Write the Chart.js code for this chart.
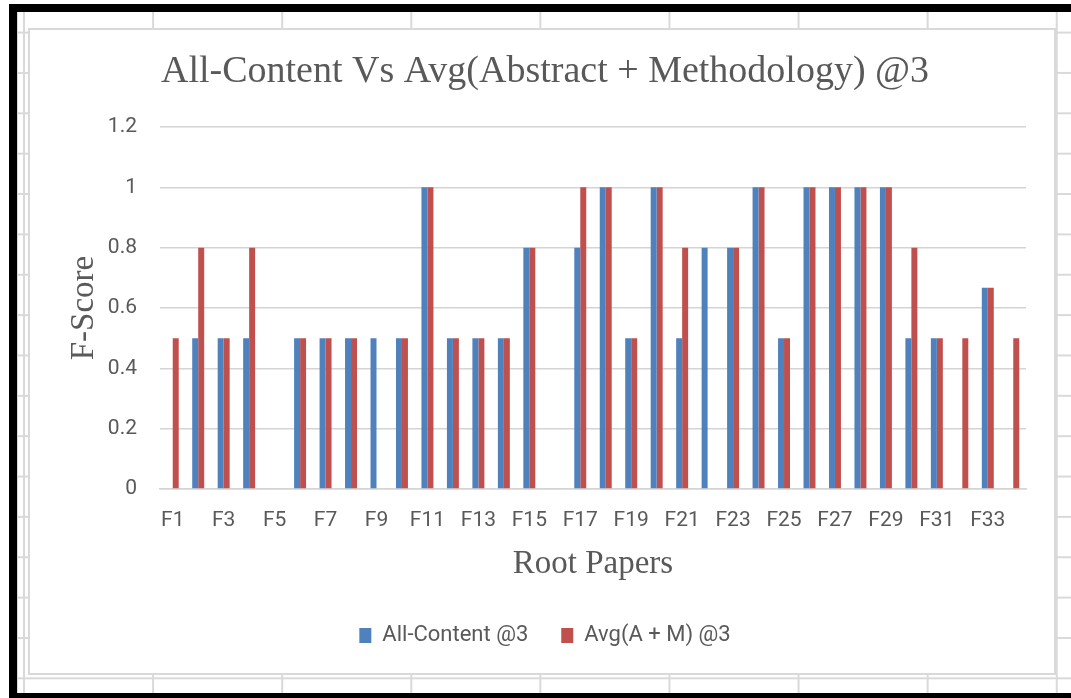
<!DOCTYPE html>
<html>
<head>
<meta charset="utf-8">
<script src="https://cdn.jsdelivr.net/npm/chart.js@4.4.1/dist/chart.umd.min.js"></script>
<style>
    html, body { margin: 0; padding: 0; background: #fff; }
    body { width: 1071px; height: 698px; position: relative; overflow: hidden; }
    /* spreadsheet cells behind the chart */
    #hoja {
        position: absolute; left: 17px; top: 12px; width: 1054px; height: 681px;
        background-color: #fff;
        background-image:
            linear-gradient(to right, #d9d9d9 1.5px, transparent 1.5px),
            linear-gradient(to bottom, #d9d9d9 1.5px, transparent 1.5px);
        background-size: 129.1px 100%, 100% 40.36px;
        background-position: 5px 0, 0 19.6px;
        border-left: 1px solid #d9d9d9;
    }
    #marcoTop { position: absolute; left: 9px; top: 4px; width: 1062px; height: 8px; background: #000; }
    #marcoLeft { position: absolute; left: 9px; top: 4px; width: 8px; height: 694px; background: #000; }
    #marcoBottom { position: absolute; left: 9px; top: 693px; width: 1062px; height: 5px; background: #000; }
    #cajaChart {
        position: absolute; left: 28px; top: 28px; width: 1028px; height: 647px;
        box-sizing: border-box; border: 2px solid #d9d9d9; background: #fff;
    }
    #contenedor { position: relative; width: 1024px; height: 643px; }
</style>
</head>
<body>
<div id="hoja"></div>
<div id="marcoTop"></div>
<div id="marcoLeft"></div>
<div id="marcoBottom"></div>
<div id="cajaChart">
    <div id="contenedor"><canvas id="chartFScore"></canvas></div>
</div>

<script>
    const papers = ['F1', 'F2', 'F3', 'F4', 'F5', 'F6', 'F7', 'F8', 'F9', 'F10',
        'F11', 'F12', 'F13', 'F14', 'F15', 'F16', 'F17', 'F18', 'F19', 'F20',
        'F21', 'F22', 'F23', 'F24', 'F25', 'F26', 'F27', 'F28', 'F29', 'F30',
        'F31', 'F32', 'F33', 'F34'];
    const allContent = [0, 0.5, 0.5, 0.5, 0, 0.5, 0.5, 0.5, 0.5, 0.5,
        1, 0.5, 0.5, 0.5, 0.8, 0, 0.8, 1, 0.5, 1,
        0.5, 0.8, 0.8, 1, 0.5, 1, 1, 1, 1, 0.5,
        0.5, 0, 0.667, 0];
    const avgAM = [0.5, 0.8, 0.5, 0.8, 0, 0.5, 0.5, 0.5, 0, 0.5,
        1, 0.5, 0.5, 0.5, 0.8, 0, 1, 1, 0.5, 1,
        0.8, 0, 0.8, 1, 0.5, 1, 1, 1, 1, 0.8,
        0.5, 0.5, 0.667, 0.5];
    const yTicks = [0, 0.2, 0.4, 0.6, 0.8, 1, 1.2];

    const gris = '#595959';
    const serif = "'Liberation Serif', 'Times New Roman', serif";
    const sans = "Roboto, 'Liberation Sans', sans-serif";

    var ctx = document.getElementById('chartFScore').getContext('2d');
    var myChart = new Chart(ctx, {
        type: 'bar',
        data: {
            labels: papers,
            datasets: [{
                label: 'All-Content @3',
                data: allContent,
                backgroundColor: '#4f81bd',
                borderWidth: 0
            },
            {
                label: 'Avg(A + M) @3',
                data: avgAM,
                backgroundColor: '#c0504d',
                borderWidth: 0
            }]
        },
        options: {
            responsive: true,
            maintainAspectRatio: false,
            animation: false,
            categoryPercentage: 0.47,
            barPercentage: 1.0,
            layout: {
                padding: { left: 34, right: 28, top: 0, bottom: 16.5 }
            },
            plugins: {
                title: {
                    display: true,
                    text: 'All-Content Vs Avg(Abstract + Methodology) @3',
                    color: gris,
                    font: { family: serif, size: 38, weight: 'normal' },
                    padding: { top: 19.2, bottom: 32.2 }
                },
                legend: {
                    display: true,
                    position: 'bottom',
                    labels: {
                        color: gris,
                        font: { family: sans, size: 22 },
                        boxWidth: 12,
                        boxHeight: 15,
                        padding: 33
                    }
                },
                tooltip: { enabled: false }
            },
            scales: {
                x: {
                    grid: { display: false },
                    border: { display: true, color: '#d4d4d4', width: 1.5 },
                    ticks: {
                        autoSkip: false,
                        maxRotation: 0,
                        minRotation: 0,
                        padding: 11,
                        color: gris,
                        font: { family: sans, size: 21 },
                        callback: function (value, index) {
                            return index % 2 === 0 ? papers[index] : '';
                        }
                    },
                    title: {
                        display: true,
                        text: 'Root Papers',
                        color: gris,
                        font: { family: serif, size: 33 },
                        padding: { top: 0, bottom: 7.7 }
                    },
                    afterFit: function (scale) { scale.height = 102.5; }
                },
                y: {
                    min: 0,
                    max: 1.2,
                    grid: { color: '#d4d4d4', lineWidth: 1.5, drawTicks: false },
                    border: { display: false },
                    afterBuildTicks: function (scale) {
                        scale.ticks = yTicks.map(function (v) { return { value: v }; });
                    },
                    ticks: {
                        padding: 23,
                        color: gris,
                        font: { family: sans, size: 21 },
                        callback: function (value) { return String(value); }
                    },
                    title: {
                        display: true,
                        text: 'F-Score',
                        color: gris,
                        font: { family: serif, size: 33 },
                        padding: { top: 1, bottom: 0 }
                    },
                    afterFit: function (scale) { scale.width = 96; }
                }
            }
        }
    });
</script>
</body>
</html>
